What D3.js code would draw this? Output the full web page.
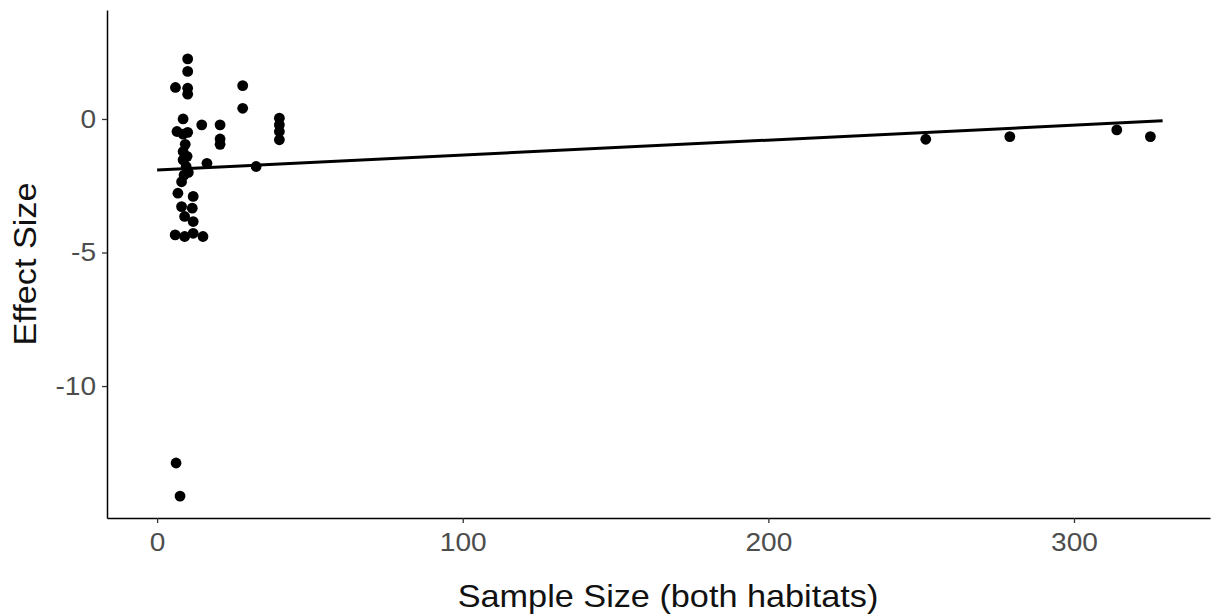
<!DOCTYPE html>
<html>
<head>
<meta charset="utf-8">
<script src="https://cdn.jsdelivr.net/npm/d3@7"></script>
<style>
  body { margin: 0; background: #fff; }
  svg { display: block; font-family: "Liberation Sans", Arial, sans-serif; }
</style>
</head>
<body>
<svg id="chart" width="1222" height="616"></svg>
<script>
// Sample size (both habitats) for each study
const sampleSize = [
  10, 10, 6, 10, 10, 28, 28, 40, 40, 40, 40,
  8.5, 6.5, 8.5, 10, 14.6, 20.6, 20.6, 20.6,
  8.5, 8.5, 9.5, 16.3, 32.4,
  9.2, 9.8, 10.2, 8.8,
  8, 6.8, 11.8, 8, 11.5, 9, 11.8, 5.9, 9, 11.8, 15,
  6.2, 7.5,
  251.5, 279, 314, 325
];
// Effect size for each study
const effectSize = [
  2.25, 1.78, 1.18, 1.15, 0.93, 1.25, 0.4, 0.03, -0.22, -0.47, -0.78,
  -0.0, -0.47, -0.57, -0.5, -0.22, -0.22, -0.75, -0.95,
  -1.22, -1.53, -1.78, -1.66, -1.78,
  -0.95, -1.4, -2.0, -2.1,
  -2.35, -2.78, -2.9, -3.28, -3.34, -3.65, -3.84, -4.34, -4.4, -4.28, -4.4,
  -12.88, -14.12,
  -0.76, -0.66, -0.41, -0.66
];
// Fitted linear trend, end points
const fitX = [0, 329];
const fitY = [-1.91, -0.07];

const xTicks = [0, 100, 200, 300];
const yTicks = [0, -5, -10];

const svg = d3.select("#chart");
const plotLeft = 107, plotRight = 1210, plotTop = 10, plotBottom = 518;

const x = d3.scaleLinear().domain([-16.4, 344.5]).range([plotLeft, plotRight]);
const y = d3.scaleLinear().domain([-14.94, 4.08]).range([plotBottom, plotTop]);

// stretch a text element horizontally by a factor
function widen(sel, k) {
  sel.each(function () {
    const w = this.getComputedTextLength();
    d3.select(this).attr("textLength", w * k).attr("lengthAdjust", "spacingAndGlyphs");
  });
}

// axes
const xAxis = svg.append("g").attr("transform", `translate(0,${plotBottom})`)
  .call(d3.axisBottom(x).tickValues(xTicks).tickSizeInner(5).tickSizeOuter(0)
    .tickPadding(8).tickFormat(d3.format("d")));
const yAxis = svg.append("g").attr("transform", `translate(${plotLeft},0)`)
  .call(d3.axisLeft(y).tickValues(yTicks).tickSizeInner(5).tickSizeOuter(0)
    .tickPadding(6).tickFormat(d => d < 0 ? "-" + Math.abs(d) : d));

[xAxis, yAxis].forEach(g => {
  g.attr("font-size", null).attr("font-family", null);
  g.select(".domain").attr("stroke", "#000").attr("stroke-width", 1.5);
  g.selectAll(".tick line").attr("stroke", "#333").attr("stroke-width", 1.3);
  g.selectAll(".tick text").attr("fill", "#4d4d4d")
    .style("font-size", "26px")
    .style("font-family", "'Liberation Sans', Arial, sans-serif");
  widen(g.selectAll(".tick text"), 1.08);
});
xAxis.selectAll(".tick text").attr("dy", "0.78em");

// points
svg.append("g").selectAll("circle")
  .data(sampleSize.map((s, i) => [s, effectSize[i]]))
  .join("circle")
  .attr("cx", d => x(d[0]))
  .attr("cy", d => y(d[1]))
  .attr("r", 5.4)
  .attr("fill", "#000");

// trend line
svg.append("path")
  .datum(fitX.map((v, i) => [v, fitY[i]]))
  .attr("d", d3.line().x(d => x(d[0])).y(d => y(d[1])))
  .attr("stroke", "#000").attr("stroke-width", 3).attr("fill", "none");

// axis titles
const xTitle = svg.append("text")
  .attr("x", 668).attr("y", 607)
  .attr("text-anchor", "middle").style("font-size", "32px").attr("fill", "#111")
  .text("Sample Size (both habitats)");
widen(xTitle, 1.07);
const yTitle = svg.append("text")
  .attr("transform", `translate(36,${(plotTop + plotBottom) / 2}) rotate(-90)`)
  .attr("text-anchor", "middle").style("font-size", "32px").attr("fill", "#111")
  .text("Effect Size");
widen(yTitle, 1.07);
</script>
</body>
</html>
